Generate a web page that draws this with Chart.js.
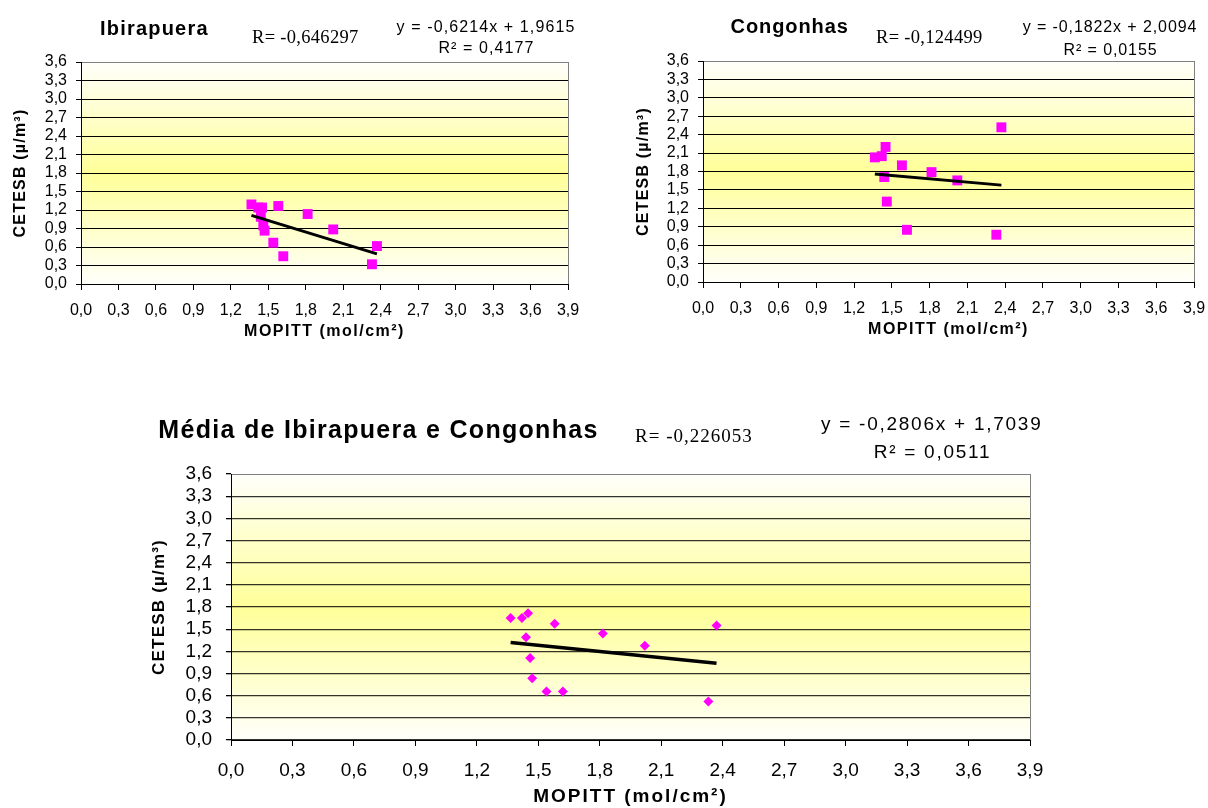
<!DOCTYPE html>
<html><head><meta charset="utf-8">
<script src="https://cdn.jsdelivr.net/npm/chart.js@4.4.1/dist/chart.umd.min.js"></script>
<style>
html,body{margin:0;padding:0;background:#fff;}
body{width:1208px;height:808px;position:relative;overflow:hidden;}
canvas{position:absolute;}
</style>
</head><body>
<canvas id="c1" width="600" height="345" style="left:0;top:0"></canvas>
<canvas id="c2" width="586" height="343" style="left:622px;top:0"></canvas>
<canvas id="c3" width="902" height="408" style="left:148px;top:400px"></canvas>
<script>
// ---------- data ----------
const mopittX      = [1.365, 1.42, 1.45, 1.44, 1.46, 1.47, 1.58, 1.54, 1.62, 1.815, 2.02, 2.33, 2.37];
const ibirapueraY  = [1.29, 1.24, 1.24, 1.09, 0.95, 0.865, 1.265, 0.67, 0.45, 1.135, 0.885, 0.32, 0.615];
const congonhasX   = [1.365, 1.42, 1.45, 1.44, 1.46, 1.58, 1.62, 1.815, 2.02, 2.33, 2.37];
const congonhasY   = [2.03, 2.05, 2.20, 1.71, 1.31, 1.90, 0.85, 1.79, 1.655, 0.77, 2.52];
const mediaY       = [1.65, 1.65, 1.715, 1.39, 1.11, 0.835, 1.575, 0.655, 0.655, 1.44, 1.275, 0.52, 1.55];
// trendline end points (from the printed equations, over the data range)
const ibirapueraTrendX = [1.365, 2.37];
const ibirapueraTrendY = [1.113, 0.489];
const congonhasTrendX  = [1.365, 2.37];
const congonhasTrendY  = [1.761, 1.578];
const mediaTrendX      = [1.365, 2.37];
const mediaTrendY      = [1.321, 1.039];
const yTickLabels = ['0,0','0,3','0,6','0,9','1,2','1,5','1,8','2,1','2,4','2,7','3,0','3,3','3,6'];
const xTickLabels = ['0,0','0,3','0,6','0,9','1,2','1,5','1,8','2,1','2,4','2,7','3,0','3,3','3,6','3,9'];
const xTitle = 'MOPITT (mol/cm²)';
const yTitle = 'CETESB (µ/m³)';

const SANS = '"Liberation Sans", Arial, sans-serif';
const SERIF = '"Liberation Serif", "Times New Roman", serif';

function pts(xs, ys){ return xs.map((x,i)=>({x:x, y:ys[i]})); }
function toVal(l){ return parseFloat(l.replace(',', '.')); }

const plotBg = {
  id:'plotBg',
  beforeDraw(chart){
    const {ctx, chartArea:a} = chart;
    const g = ctx.createLinearGradient(0, a.top, 0, a.bottom);
    g.addColorStop(0, '#FFFFFB');
    g.addColorStop(0.5, '#FFFF99');
    g.addColorStop(1, '#FFFFFB');
    ctx.save();
    ctx.fillStyle = g;
    ctx.fillRect(a.left, a.top, a.right - a.left, a.bottom - a.top);
    ctx.strokeStyle = '#808080';
    ctx.lineWidth = 1;
    ctx.strokeRect(Math.round(a.left)+0.5, Math.round(a.top)+0.5, Math.round(a.right - a.left), Math.round(a.bottom - a.top));
    ctx.restore();
    // letter spacing for axis titles
    Object.values(chart.scales).forEach(s => {
      if (s._lsWrapped) return;
      const orig = s.drawTitle;
      const ls = s.options._ls || 0;
      s.drawTitle = function(){ const c=this.ctx; c.save(); c.letterSpacing = ls + 'px'; orig.apply(this, arguments); c.restore(); };
      s._lsWrapped = true;
    });
  }
};

function textPlugin(items){
  return {
    id:'annotText',
    afterDraw(chart){
      const ctx = chart.ctx;
      items.forEach(t => {
        ctx.save();
        ctx.font = t.font;
        ctx.letterSpacing = (t.ls || 0) + 'px';
        ctx.fillStyle = '#000';
        ctx.textAlign = t.align || 'left';
        ctx.textBaseline = 'alphabetic';
        ctx.fillText(t.text, t.x, t.y);
        ctx.restore();
      });
    }
  };
}

function makeChart(id, o){
  const yLS = o.yTitleLS, xLS = o.xTitleLS;
  return new Chart(document.getElementById(id), {
    type:'scatter',
    data:{ datasets:[
      { label:'Linear', data:o.trend, showLine:true, borderColor:'#000', borderWidth:o.trendWidth,
        pointRadius:0, pointHoverRadius:0, fill:false },
      { label:'dados', data:o.points, pointStyle:o.marker, pointRadius:o.markerR, pointHoverRadius:o.markerR,
        backgroundColor:'#FF00FF', borderColor:'#FF00FF', borderWidth:0, showLine:false }
    ]},
    options:{
      responsive:false, animation:false, devicePixelRatio:1,
      layout:{ padding:{ top:o.padTop, right:o.padRight, left:0, bottom:0 } },
      plugins:{ legend:{display:false}, tooltip:{enabled:false}, title:{display:false} },
      events:[],
      scales:{
        x:{
          type:'linear', min:0, max:3.9, _ls:xLS,
          afterBuildTicks(s){ s.ticks = xTickLabels.map(l => ({value: toVal(l)})); },
          afterFit(s){ s.height = o.xHeight; s.paddingLeft = 0; s.paddingRight = 0; },
          ticks:{ callback:(v,i)=>xTickLabels[i], font:{family:SANS, size:o.xTickSize}, color:'#000',
                  padding:o.xTickPad, maxRotation:0, autoSkip:false },
          grid:{ drawOnChartArea:false, drawTicks:true, tickLength:6, tickColor:'#000', color:'#000', lineWidth:1 },
          border:{ display:true, color:'#000', width:1 },
          title:{ display:true, text:xTitle, color:'#000', font:{family:SANS, size:o.xTitleSize, weight:'bold'},
                  padding:{top:0, bottom:o.xTitlePadB} }
        },
        y:{
          type:'linear', min:0, max:3.6, _ls:yLS,
          afterBuildTicks(s){ s.ticks = yTickLabels.map(l => ({value: toVal(l)})); },
          afterFit(s){ s.width = o.yWidth; s.paddingTop = 0; s.paddingBottom = 0; },
          ticks:{ callback:(v,i)=>yTickLabels[i], font:{family:SANS, size:o.yTickSize}, color:'#000',
                  padding:o.yTickPad, autoSkip:false },
          grid:{ drawOnChartArea:true, drawTicks:true, tickLength:5, tickColor:'#000',
                 color:(c)=> (c.tick && c.tick.value > 3.59) ? 'rgba(0,0,0,0)' : o.gridColor,
                 lineWidth:o.gridWidth },
          border:{ display:true, color:'#000', width:1 },
          title:{ display:true, text:yTitle, color:'#000', font:{family:SANS, size:o.yTitleSize, weight:'bold'},
                  padding:{top:o.yTitlePadT, bottom:0} }
        }
      }
    },
    plugins:[plotBg, textPlugin(o.texts)]
  });
}

makeChart('c1', {
  points: pts(mopittX, ibirapueraY), trend: pts(ibirapueraTrendX, ibirapueraTrendY),
  marker:'rect', markerR:7, trendWidth:3,
  padTop:62, padRight:32, xHeight:61, yWidth:81,
  xTickSize:16, yTickSize:16, xTickPad:11, yTickPad:9,
  xTitleSize:16, xTitleLS:1.5, xTitlePadB:3.5, yTitleSize:16, yTitleLS:1.2, yTitlePadT:10.5,
  gridColor:'#000', gridWidth:1,
  texts:[
    {text:'Ibirapuera', x:100, y:35, font:'bold 20px '+SANS, ls:1.2},
    {text:'R= -0,646297', x:252, y:42.5, font:'18.5px '+SERIF, ls:0.3},
    {text:'y = -0,6214x + 1,9615', x:486, y:31.7, font:'16px '+SANS, ls:1.1, align:'center'},
    {text:'R² = 0,4177', x:486.5, y:53.3, font:'16px '+SANS, ls:1.1, align:'center'}
  ]
});

makeChart('c2', {
  points: pts(congonhasX, congonhasY), trend: pts(congonhasTrendX, congonhasTrendY),
  marker:'rect', markerR:7, trendWidth:3,
  padTop:61, padRight:14, xHeight:61, yWidth:81,
  xTickSize:16, yTickSize:16, xTickPad:11, yTickPad:9,
  xTitleSize:16, xTitleLS:1.5, xTitlePadB:3.5, yTitleSize:16, yTitleLS:1.2, yTitlePadT:11.5,
  gridColor:'#000', gridWidth:1,
  texts:[
    {text:'Congonhas', x:108.6, y:33, font:'bold 20px '+SANS, ls:0.9},
    {text:'R= -0,124499', x:254, y:43, font:'18.5px '+SERIF, ls:0.3},
    {text:'y = -0,1822x + 2,0094', x:488, y:32, font:'16px '+SANS, ls:0.9, align:'center'},
    {text:'R² = 0,0155', x:488.5, y:55, font:'16px '+SANS, ls:0.9, align:'center'}
  ]
});

makeChart('c3', {
  points: pts(mopittX, mediaY), trend: pts(mediaTrendX, mediaTrendY),
  marker:'rectRot', markerR:5, trendWidth:3.5,
  padTop:74, padRight:20, xHeight:68, yWidth:83,
  xTickSize:19, yTickSize:19, xTickPad:13, yTickPad:14,
  xTitleSize:19, xTitleLS:2, xTitlePadB:0, yTitleSize:17, yTitleLS:1.2, yTitlePadT:1,
  gridColor:'rgba(0,0,0,0.8)', gridWidth:1.3,
  texts:[
    {text:'Média de Ibirapuera e Congonhas', x:10.3, y:38.3, font:'bold 25px '+SANS, ls:1.3},
    {text:'R= -0,226053', x:487, y:41.7, font:'19px '+SERIF, ls:1},
    {text:'y = -0,2806x + 1,7039', x:783.7, y:30, font:'19px '+SANS, ls:1.75, align:'center'},
    {text:'R² = 0,0511', x:784.5, y:58.3, font:'19px '+SANS, ls:1.75, align:'center'}
  ]
});
</script>
</body></html>
